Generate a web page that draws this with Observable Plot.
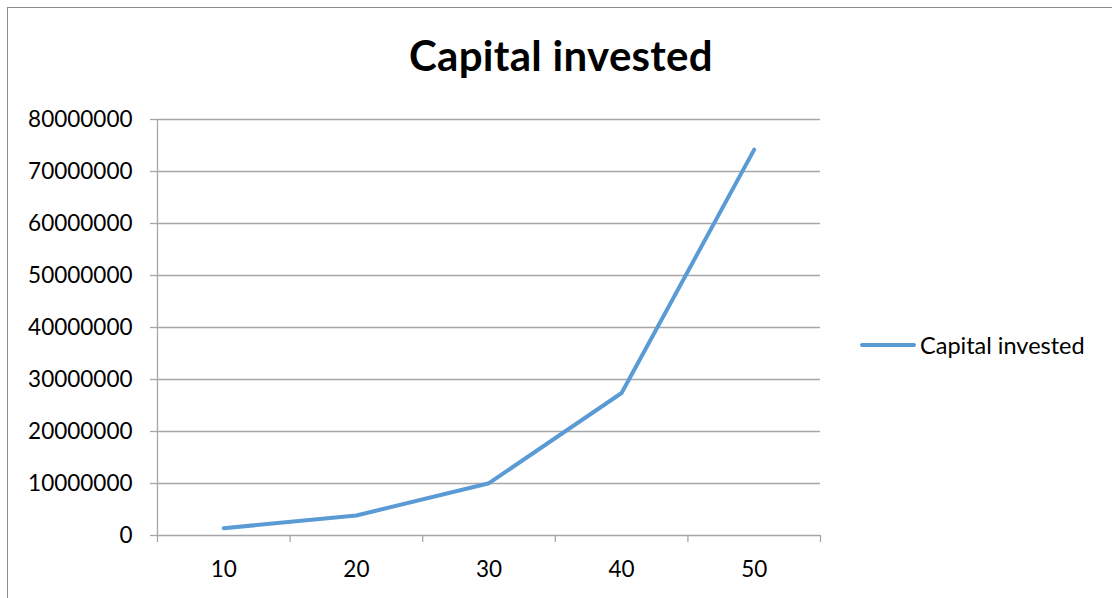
<!DOCTYPE html>
<html>
<head>
<meta charset="utf-8">
<script src="https://cdn.jsdelivr.net/npm/d3@7"></script>
<script src="https://cdn.jsdelivr.net/npm/@observablehq/plot@0.6"></script>
<style>
  html, body { margin: 0; padding: 0; background: #fff; overflow: hidden; }
  #wrap { position: relative; width: 1112px; height: 598px; overflow: hidden; font-family: Lato, "Open Sans", sans-serif; }
  #frame { position: absolute; left: 7px; top: 7px; width: 1300px; height: 800px; border: 1.5px solid #8c8c8c; box-sizing: border-box; }
  #title { position: absolute; left: 0; width: 1122px; top: 29px; text-align: center; font-weight: 700; font-size: 42px; line-height: 52px; letter-spacing: 0.3px; color: #000; }
  #legend { position: absolute; left: 860px; top: 329px; height: 32px; display: flex; align-items: center; font-size: 23.5px; color: #000; }
  #legend .sw { width: 56px; height: 4px; border-radius: 2px; margin-right: 4px; }
  #chart { position: absolute; left: 0; top: 0; }
</style>
</head>
<body>
<div id="wrap">
  <div id="frame"></div>
  <div id="chart"></div>
  <div id="title"></div>
  <div id="legend"><div class="sw"></div><span class="lt"></span></div>
</div>
<script>
const titleText = "Capital invested";
const seriesName = "Capital invested";
const categories = [10, 20, 30, 40, 50];
const values = [1400000, 3850000, 10060000, 27400000, 74200000];
const yTicks = [0, 10000000, 20000000, 30000000, 40000000, 50000000, 60000000, 70000000, 80000000];
const lineColor = "#5b9bd5";
const gridColor = "#a6a6a6";

const data = categories.map((c, i) => ({x: c, y: values[i]}));
const step = categories[1] - categories[0];
const boundaries = [...categories.map(c => c - step / 2), categories[categories.length - 1] + step / 2];

document.getElementById("title").textContent = titleText;
document.querySelector("#legend .lt").textContent = seriesName;
document.querySelector("#legend .sw").style.background = lineColor;

const plot = Plot.plot({
  width: 1112,
  height: 598,
  marginLeft: 157,
  marginRight: 292,
  marginTop: 119,
  marginBottom: 63,
  style: { fontFamily: "Lato, 'Open Sans', sans-serif", background: "transparent", overflow: "visible" },
  x: { type: "linear", domain: [boundaries[0], boundaries[boundaries.length - 1]] },
  y: { domain: [yTicks[0], yTicks[yTicks.length - 1]] },
  marks: [
    Plot.gridY(yTicks, { stroke: gridColor, strokeOpacity: 1, strokeWidth: 1.3 }),
    Plot.axisY({ ticks: yTicks, tickSize: 7, tickPadding: 18, tickFormat: d3.format("d"), stroke: gridColor, strokeOpacity: 1, strokeWidth: 1.3, fontSize: 22.5, fill: "#000", label: null }),
    Plot.ruleX([boundaries[0]], { stroke: gridColor, strokeWidth: 1.3 }),
    Plot.axisX({ ticks: boundaries, tickSize: 7, tickFormat: () => "", stroke: gridColor, strokeOpacity: 1, strokeWidth: 1.3, label: null }),
    Plot.axisX({ ticks: categories, tickSize: 0, tickPadding: 26, tickFormat: d3.format("d"), fontSize: 22.5, fill: "#000", label: null }),
    Plot.line(data, { x: "x", y: "y", stroke: lineColor, strokeWidth: 4, strokeLinecap: "round", strokeLinejoin: "round" })
  ]
});
document.getElementById("chart").appendChild(plot);
</script>
</body>
</html>
